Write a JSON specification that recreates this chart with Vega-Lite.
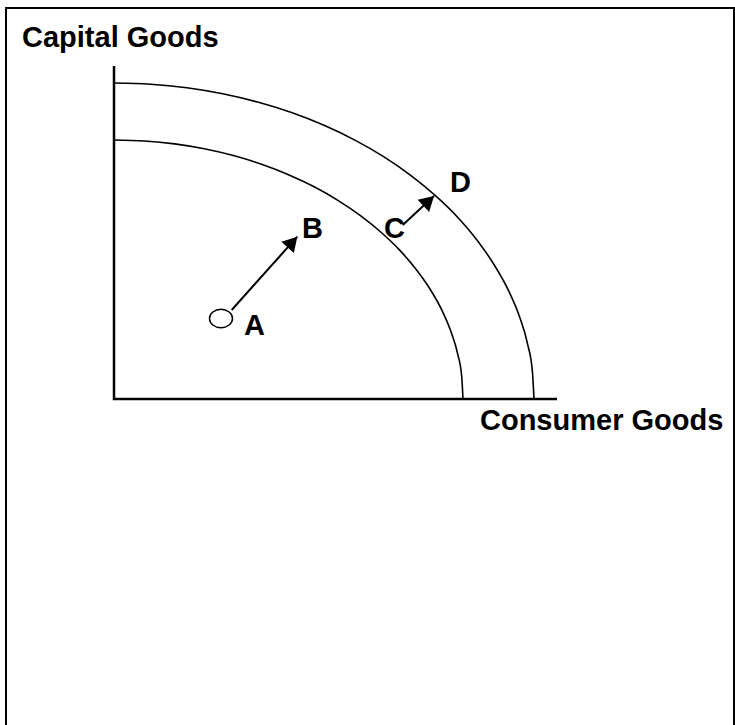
{
  "$schema": "https://vega.github.io/schema/vega-lite/v6.json",
  "width": 735,
  "height": 725,
  "autosize": {"type": "none"},
  "padding": 0,
  "background": "white",
  "config": {"view": {"stroke": null}},
  "datasets": {
    "frame": [{"x": -108, "x2": 620, "y": 391, "y2": -340}],
    "axes": [
      {"order": 1, "x": 0, "y": 333},
      {"order": 2, "x": 0, "y": 0},
      {"order": 3, "x": 443, "y": 0}
    ],
    "curves": [
      {"curve": "inner", "order": 0, "x": 349, "y": 0},
      {"curve": "inner", "order": 5, "x": 347.7, "y": 22.6},
      {"curve": "inner", "order": 10, "x": 343.7, "y": 45.0},
      {"curve": "inner", "order": 15, "x": 337.1, "y": 67.0},
      {"curve": "inner", "order": 20, "x": 328.0, "y": 88.6},
      {"curve": "inner", "order": 25, "x": 316.3, "y": 109.5},
      {"curve": "inner", "order": 30, "x": 302.2, "y": 129.5},
      {"curve": "inner", "order": 35, "x": 285.9, "y": 148.6},
      {"curve": "inner", "order": 40, "x": 267.3, "y": 166.5},
      {"curve": "inner", "order": 45, "x": 246.8, "y": 183.1},
      {"curve": "inner", "order": 50, "x": 224.3, "y": 198.4},
      {"curve": "inner", "order": 55, "x": 200.2, "y": 212.2},
      {"curve": "inner", "order": 60, "x": 174.5, "y": 224.3},
      {"curve": "inner", "order": 65, "x": 147.5, "y": 234.7},
      {"curve": "inner", "order": 70, "x": 119.4, "y": 243.4},
      {"curve": "inner", "order": 75, "x": 90.3, "y": 250.2},
      {"curve": "inner", "order": 80, "x": 60.6, "y": 255.1},
      {"curve": "inner", "order": 85, "x": 30.4, "y": 258.0},
      {"curve": "inner", "order": 90, "x": 0, "y": 259},
      {"curve": "outer", "order": 0, "x": 420, "y": 0},
      {"curve": "outer", "order": 5, "x": 418.4, "y": 27.6},
      {"curve": "outer", "order": 10, "x": 413.6, "y": 54.9},
      {"curve": "outer", "order": 15, "x": 405.7, "y": 81.8},
      {"curve": "outer", "order": 20, "x": 394.7, "y": 108.1},
      {"curve": "outer", "order": 25, "x": 380.6, "y": 133.5},
      {"curve": "outer", "order": 30, "x": 363.7, "y": 158.0},
      {"curve": "outer", "order": 35, "x": 344.1, "y": 181.3},
      {"curve": "outer", "order": 40, "x": 321.7, "y": 203.1},
      {"curve": "outer", "order": 45, "x": 297.0, "y": 223.4},
      {"curve": "outer", "order": 50, "x": 270.0, "y": 242.1},
      {"curve": "outer", "order": 55, "x": 240.9, "y": 258.9},
      {"curve": "outer", "order": 60, "x": 210.0, "y": 273.7},
      {"curve": "outer", "order": 65, "x": 177.5, "y": 286.4},
      {"curve": "outer", "order": 70, "x": 143.6, "y": 296.9},
      {"curve": "outer", "order": 75, "x": 108.7, "y": 305.2},
      {"curve": "outer", "order": 80, "x": 72.9, "y": 311.2},
      {"curve": "outer", "order": 85, "x": 36.6, "y": 314.8},
      {"curve": "outer", "order": 90, "x": 0, "y": 316}
    ],
    "arrows": [
      {"arrow": "AB", "x": 117.7, "y": 89, "x2": 183.3, "y2": 162.3},
      {"arrow": "CD", "x": 288.7, "y": 174, "x2": 320, "y2": 203}
    ],
    "pointA": [{"x": 107, "y": 80.5}],
    "labels": [
      {"text": "Capital Goods", "x": -92, "y": 352},
      {"text": "Consumer Goods", "x": 366, "y": -31},
      {"text": "A", "x": 130, "y": 64},
      {"text": "B", "x": 188, "y": 161},
      {"text": "C", "x": 270, "y": 161},
      {"text": "D", "x": 336, "y": 207}
    ]
  },
  "resolve": {"scale": {"x": "shared", "y": "shared"}},
  "layer": [
    {
      "data": {"name": "frame"},
      "mark": {"type": "rect", "fill": null, "stroke": "black", "strokeWidth": 2, "clip": false},
      "encoding": {
        "x": {"field": "x", "type": "quantitative", "scale": {"domain": [-114, 621], "nice": false, "zero": false}, "axis": null},
        "x2": {"field": "x2"},
        "y": {"field": "y", "type": "quantitative", "scale": {"domain": [-326, 399], "nice": false, "zero": false}, "axis": null},
        "y2": {"field": "y2"}
      }
    },
    {
      "data": {"name": "axes"},
      "mark": {"type": "line", "color": "black", "strokeWidth": 2.5, "strokeJoin": "miter"},
      "encoding": {
        "x": {"field": "x", "type": "quantitative"},
        "y": {"field": "y", "type": "quantitative"},
        "order": {"field": "order"}
      }
    },
    {
      "data": {"name": "curves"},
      "mark": {"type": "line", "color": "black", "strokeWidth": 1.6, "interpolate": "monotone"},
      "encoding": {
        "x": {"field": "x", "type": "quantitative"},
        "y": {"field": "y", "type": "quantitative"},
        "detail": {"field": "curve"},
        "order": {"field": "order"}
      }
    },
    {
      "data": {"name": "arrows"},
      "mark": {"type": "rule", "color": "black", "strokeWidth": 2},
      "encoding": {
        "x": {"field": "x", "type": "quantitative"},
        "y": {"field": "y", "type": "quantitative"},
        "x2": {"field": "x2"},
        "y2": {"field": "y2"}
      }
    },
    {
      "data": {"name": "arrows"},
      "transform": [{"filter": "datum.arrow == 'AB'"}],
      "mark": {"type": "point", "shape": "M0,0L0.58,1L-0.58,1Z", "filled": true, "color": "black", "size": 841, "angle": 42, "opacity": 1},
      "encoding": {
        "x": {"field": "x2", "type": "quantitative"},
        "y": {"field": "y2", "type": "quantitative"}
      }
    },
    {
      "data": {"name": "arrows"},
      "transform": [{"filter": "datum.arrow == 'CD'"}],
      "mark": {"type": "point", "shape": "M0,0L0.58,1L-0.58,1Z", "filled": true, "color": "black", "size": 841, "angle": 47, "opacity": 1},
      "encoding": {
        "x": {"field": "x2", "type": "quantitative"},
        "y": {"field": "y2", "type": "quantitative"}
      }
    },
    {
      "data": {"name": "pointA"},
      "mark": {"type": "point", "shape": "M-1,0A1,0.8 0 1,0 1,0A1,0.8 0 1,0 -1,0Z", "filled": false, "stroke": "black", "strokeWidth": 1.5, "size": 529, "opacity": 1},
      "encoding": {
        "x": {"field": "x", "type": "quantitative"},
        "y": {"field": "y", "type": "quantitative"}
      }
    },
    {
      "data": {"name": "labels"},
      "mark": {"type": "text", "align": "left", "baseline": "alphabetic", "font": "Liberation Sans", "fontWeight": "bold", "fontSize": 29, "color": "black"},
      "encoding": {
        "x": {"field": "x", "type": "quantitative"},
        "y": {"field": "y", "type": "quantitative"},
        "text": {"field": "text"}
      }
    }
  ]
}
